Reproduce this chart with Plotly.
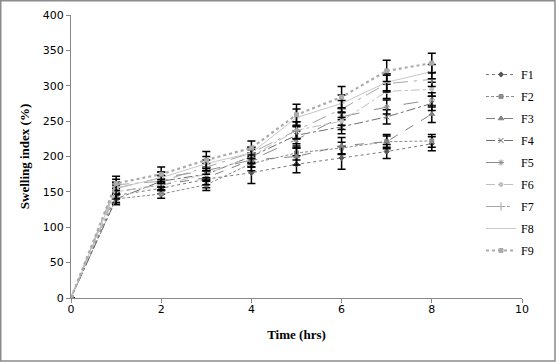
import plotly.graph_objects as go

time = [0, 1, 2, 3, 4, 5, 6, 7, 8]
series_names = ["F1", "F2", "F3", "F4", "F5", "F6", "F7", "F8", "F9"]

F1 = [0, 145, 155, 168, 177, 189, 198, 207, 218]
F2 = [0, 140, 147, 160, 190, 205, 212, 221, 222]
F3 = [0, 150, 160, 170, 195, 200, 215, 221, 260]
F4 = [0, 140, 165, 175, 200, 230, 242, 256, 275]
F5 = [0, 155, 170, 180, 195, 224, 256, 270, 280]
F6 = [0, 150, 160, 175, 200, 237, 250, 292, 295]
F7 = [0, 160, 165, 185, 205, 237, 267, 303, 309]
F8 = [0, 155, 170, 190, 205, 255, 275, 305, 320]
F9 = [0, 162, 175, 195, 212, 259, 284, 321, 332]

E1 = [0, 10, 8, 12, 15, 12, 16, 10, 10]
E2 = [0, 8, 6, 8, 10, 10, 8, 8, 9]
E3 = [0, 9, 8, 10, 10, 12, 12, 10, 12]
E4 = [0, 8, 8, 9, 10, 12, 10, 10, 10]
E5 = [0, 9, 8, 10, 10, 12, 12, 10, 10]
E6 = [0, 10, 8, 10, 10, 12, 12, 10, 10]
E7 = [0, 8, 8, 10, 8, 12, 12, 12, 10]
E8 = [0, 8, 8, 10, 8, 12, 12, 12, 10]
E9 = [0, 10, 10, 12, 10, 15, 15, 15, 14]

values = [F1, F2, F3, F4, F5, F6, F7, F8, F9]
errors = [E1, E2, E3, E4, E5, E6, E7, E8, E9]

styles = [
    dict(color="#7a7a7a", mcolor="#595959", dash="dot", width=1, symbol="diamond", msize=4),
    dict(color="#8c8c8c", mcolor="#8c8c8c", dash="3px,2px", width=1, symbol="square", msize=4),
    dict(color="#808080", mcolor="#808080", dash="dash", width=1, symbol="triangle-up", msize=5),
    dict(color="#6e6e6e", mcolor="#6e6e6e", dash="dashdot", width=1, symbol="x-thin-open", msize=5),
    dict(color="#8c8c8c", mcolor="#8c8c8c", dash="longdash", width=1, symbol="asterisk-open", msize=5),
    dict(color="#c0c0c0", mcolor="#c0c0c0", dash="dashdot", width=1, symbol="circle", msize=4),
    dict(color="#a6a6a6", mcolor="#a6a6a6", dash="longdashdot", width=1, symbol="cross-thin-open", msize=6),
    dict(color="#c8c8c8", mcolor="#c8c8c8", dash="solid", width=1, symbol="line-ew-open", msize=4),
    dict(color="#ababab", mcolor="#ababab", dash="dot", width=2.2, symbol="square", msize=4),
]

fig = go.Figure()
for name, v, e, s in zip(series_names, values, errors, styles):
    fig.add_trace(go.Scatter(
        x=time, y=v, name=name, mode="lines+markers",
        line=dict(color=s["color"], dash=s["dash"], width=s["width"]),
        marker=dict(symbol=s["symbol"], size=s["msize"], color=s["mcolor"],
                    line=dict(color=s["mcolor"], width=1)),
        error_y=dict(type="data", array=e, visible=True, color="black",
                     thickness=1.5, width=4),
        legendgroup=name,
    ))

W, H = 556, 362
ml, mr, mt, mb = 71, 34, 15, 64
pw, ph = W - ml - mr, H - mt - mb

def px_to_paper_x(px):
    return (px - ml) / pw

def px_to_paper_y(py):
    return (H - mb - py) / ph

fig.add_shape(type="rect", xref="paper", yref="paper",
              x0=px_to_paper_x(0.75), x1=px_to_paper_x(555),
              y0=px_to_paper_y(361), y1=px_to_paper_y(0.75),
              line=dict(color="#8c8c8c", width=1.5), layer="below")

SERIF = "Liberation Serif, Times New Roman, serif"

fig.update_layout(
    width=W, height=H,
    margin=dict(l=ml, r=mr, t=mt, b=mb, autoexpand=False),
    paper_bgcolor="white", plot_bgcolor="white",
    showlegend=True,
    legend=dict(x=px_to_paper_x(481), y=px_to_paper_y(60), xanchor="left", yanchor="top",
                font=dict(family=SERIF, size=12, color="black"),
                tracegroupgap=3, bgcolor="rgba(0,0,0,0)"),
    xaxis=dict(range=[0, 10], tickvals=[0, 2, 4, 6, 8, 10], showgrid=False, zeroline=False,
               automargin=False,
               showline=True, linecolor="#888888", linewidth=1, ticks="outside",
               tickcolor="#888888", ticklen=4, ticklabelstandoff=-3,
               tickfont=dict(family="DejaVu Sans", size=11, color="black"),
               title=dict(text="<b>Time (hrs)</b>", standoff=14,
                          font=dict(family=SERIF, size=13, color="black"))),
    yaxis=dict(range=[0, 400], tickvals=[0, 50, 100, 150, 200, 250, 300, 350, 400],
               showgrid=False, zeroline=False, automargin=False,
               showline=True, linecolor="#888888", linewidth=1, ticks="outside",
               tickcolor="#888888", ticklen=4,
               tickfont=dict(family="DejaVu Sans", size=11, color="black"),
               title=dict(text="<b>Swelling index (%)</b>", standoff=10,
                          font=dict(family=SERIF, size=13, color="black"))),
)

fig.write_html("out.html", config={"displayModeBar": False},
               post_script="document.body.style.margin='0px';")
